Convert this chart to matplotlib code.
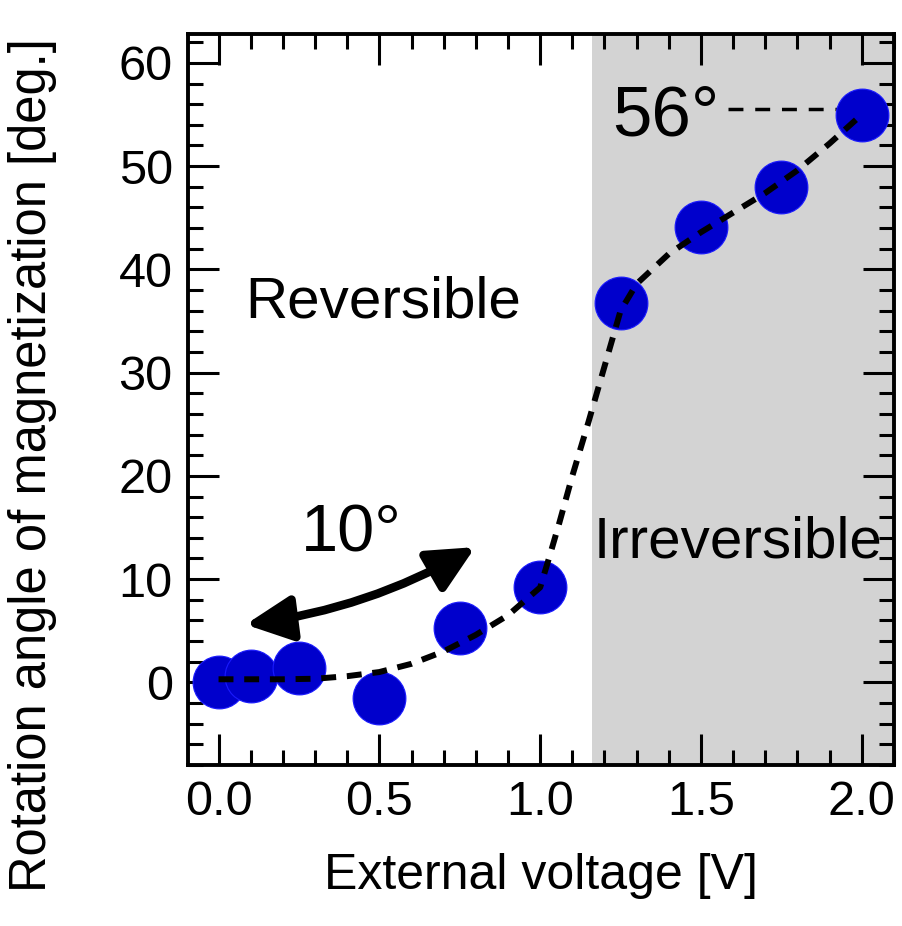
import matplotlib
matplotlib.use("Agg")
import matplotlib.pyplot as plt
from matplotlib.patches import FancyArrowPatch
from matplotlib.ticker import MultipleLocator

plt.rcParams["font.family"] = ["Liberation Sans", "DejaVu Sans"]

# measured points
voltage = [0.0, 0.1, 0.25, 0.5, 0.75, 1.0, 1.25, 1.5, 1.75, 2.0]
angle = [0.0, 0.6, 1.4, -1.5, 5.3, 9.2, 36.7, 44.1, 48.0, 55.0]

# guide curve
curve_v = [0.0, 0.1, 0.2, 0.3, 0.4, 0.5, 0.6, 0.7, 0.75, 0.8, 0.9, 1.0,
           1.03, 1.06, 1.1, 1.15, 1.2, 1.25, 1.3, 1.4, 1.5, 1.6, 1.7, 1.8, 1.9, 2.0]
curve_a = [0.3, 0.3, 0.3, 0.35, 0.6, 1.0, 1.8, 3.0, 3.8, 4.6, 6.5, 9.2,
           12.3, 15.5, 20.0, 25.2, 30.6, 36.0, 38.6, 41.5, 43.6, 45.5, 47.4, 49.6, 52.2, 55.0]

irreversible_from = 1.16
max_angle = 55.5

fig = plt.figure(figsize=(9.02, 9.26), dpi=100)
ax = fig.add_axes([0.2084, 0.1739, 0.7827, 0.7894])

ax.axvspan(irreversible_from, 2.5, color="#d3d3d3", lw=0, zorder=0)

ax.plot(voltage, angle, "o", color="#0000cc", ms=38, mec="#1a1aff", mew=0.8, zorder=3)
ax.plot(curve_v, curve_a, color="black", lw=4.3, ls=(0, (2.5, 1.8)),
        dash_capstyle="butt", zorder=4)
ax.hlines(max_angle, 1.585, 2.0, color="black", lw=2.5, linestyles=(0, (4.3, 3.4)), zorder=2)

# double arrow for the reversible 10 degree swing
arrow = FancyArrowPatch((0.084, 5.6), (0.798, 13.1),
                        arrowstyle="<|-|>,head_length=1.4,head_width=0.68",
                        connectionstyle="arc3,rad=0.1", mutation_scale=20,
                        shrinkA=0, shrinkB=0,
                        lw=6.2, color="black", zorder=5)
ax.add_patch(arrow)

ax.text(0.255, 12.7, "10°", fontsize=48, ha="left", va="baseline")
ax.text(0.083, 35.3, "Reversible", fontsize=42, ha="left", va="baseline")
ax.text(1.165, 12.1, "Irreversible", fontsize=42, ha="left", va="baseline")
ax.text(1.224, 53.0, "56°", fontsize=51, ha="left", va="baseline")

ax.set_xlim(-0.095, 2.1)
ax.set_ylim(-8, 62.8)
ax.xaxis.set_major_locator(MultipleLocator(0.5))
ax.xaxis.set_minor_locator(MultipleLocator(0.1))
ax.yaxis.set_major_locator(MultipleLocator(10))
ax.yaxis.set_minor_locator(MultipleLocator(2))
ax.set_xticks([0.0, 0.5, 1.0, 1.5, 2.0], ["0.0", "0.5", "1.0", "1.5", "2.0"])

ax.tick_params(which="both", direction="in", top=True, right=True, width=2.2,
               labelsize=35, color="black")
ax.tick_params(which="major", length=22)
ax.tick_params(which="minor", length=11)
ax.tick_params(axis="x", pad=11)
ax.tick_params(axis="y", pad=11)
for s in ax.spines.values():
    s.set_linewidth(2.8)

ax.set_xlabel("External voltage [V]", fontsize=36, labelpad=20)
ax.set_ylabel("Rotation angle of magnetization [deg.]", fontsize=36.5)
ax.yaxis.set_label_coords(-0.186, 0.41)

fig.savefig("out.png", dpi=100)
